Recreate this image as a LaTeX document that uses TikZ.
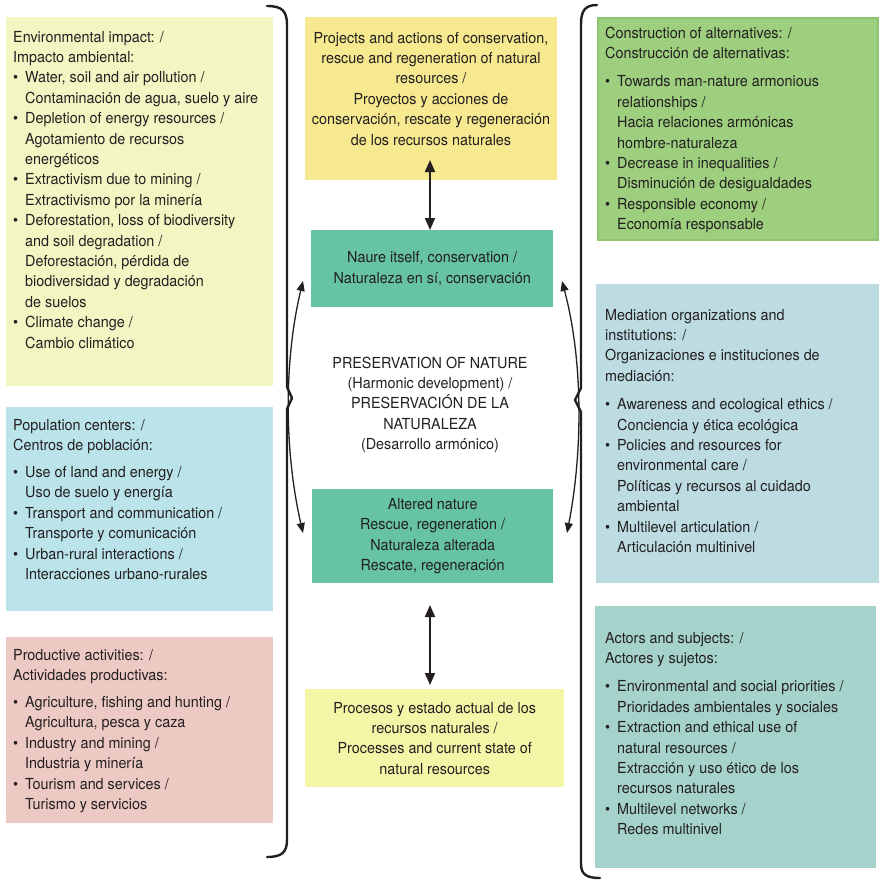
\documentclass[tikz,border=0pt]{standalone}
\usepackage{fontspec}
\setmainfont{TeX Gyre Heros}[FakeStretch=0.945]
\usetikzlibrary{arrows.meta}
\definecolor{ink}{HTML}{231F20}
\definecolor{impactfill}{HTML}{F3F5C3}
\definecolor{popfill}{HTML}{BAE4EA}
\definecolor{prodfill}{HTML}{EDC9C3}
\definecolor{projfill}{HTML}{F6E98F}
\definecolor{natfill}{HTML}{66C3A3}
\definecolor{statefill}{HTML}{F5F5A8}
\definecolor{altfill}{HTML}{9DCF7E}
\definecolor{altdraw}{HTML}{8CC66E}
\definecolor{medfill}{HTML}{BCDCE2}
\definecolor{actfill}{HTML}{A5D3CB}
\newcommand{\bul}{\makebox[12pt][l]{\textbullet}}
\newcommand{\cont}{\hspace*{12pt}}
\begin{document}
\begin{tikzpicture}[x=1pt, y=-1pt, font=\fontsize{15.2}{20.4}\selectfont,
  panel/.style={rectangle, inner sep=0pt, anchor=north west, align=center, text=ink},
  paneltext/.style={inner sep=0pt, align=left, anchor=north west, text=ink},
  midtext/.style={inner sep=0pt, align=center, anchor=north, text=ink},
  brace/.style={line width=2.4pt, line cap=round, line join=round, ink},
  twoway/.style={line width=1.8pt, ink, {Triangle[length=12pt,width=10pt]}-{Triangle[length=12pt,width=10pt]}},
  curvy/.style={line width=1.3pt, ink, {Triangle[length=10pt,width=8pt]}-{Triangle[length=10pt,width=8pt]}}]
  \useasboundingbox (0,0) rectangle (883,886);

  \node[panel, fill=impactfill, minimum width=267pt, minimum height=369pt] (impact) at (6,17) {};
  \node[panel, fill=popfill, minimum width=267pt, minimum height=204pt] (pop) at (6,407) {};
  \node[panel, fill=prodfill, minimum width=267pt, minimum height=186pt] (prod) at (6,637) {};
  \node[panel, fill=altfill, draw=altdraw, line width=2pt, minimum width=280pt, minimum height=222pt] (alt) at (597,17) {};
  \node[panel, fill=medfill, minimum width=283pt, minimum height=299pt] (med) at (596,284) {};
  \node[panel, fill=actfill, minimum width=281pt, minimum height=262pt] (act) at (595,606) {};
  \node[panel, fill=projfill, minimum width=252pt, minimum height=163pt] (proj) at (305,17) {};
  \node[panel, fill=natfill, minimum width=242pt, minimum height=77pt] (nature) at (311,230)
    {Naure itself, conservation /\\Naturaleza en sí, conservación};
  \node[panel, fill=natfill, minimum width=241pt, minimum height=94pt] (altered) at (312,489)
    {Altered nature\\Rescue, regeneration /\\Naturaleza alterada\\Rescate, regeneración};
  \node[panel, fill=statefill, minimum width=259pt, minimum height=98pt] (state) at (305,689)
    {Procesos y estado actual de los\\recursos naturales /\\Processes and current state of\\natural resources};

  \node[paneltext] (impacttext) at (13,27.7) {\strut Environmental impact: /\\Impacto ambiental:\\
    \bul Water, soil and air pollution /\\\cont Contaminación de agua, suelo y aire\\
    \bul Depletion of energy resources /\\\cont Agotamiento de recursos\\\cont energéticos\\
    \bul Extractivism due to mining /\\\cont Extractivismo por la minería\\
    \bul Deforestation, loss of biodiversity\\\cont and soil degradation /\\\cont Deforestación, pérdida de\\\cont biodiversidad y degradación\\\cont de suelos\\
    \bul Climate change /\\\cont Cambio climático};
  \node[paneltext] (poptext) at (13,415.7) {\strut Population centers: /\\Centros de población:\\[6.5pt]
    \bul Use of land and energy /\\\cont Uso de suelo y energía\\
    \bul Transport and communication /\\\cont Transporte y comunicación\\
    \bul Urban-rural interactions /\\\cont Interacciones urbano-rurales};
  \node[paneltext] (prodtext) at (13,645.7) {\strut Productive activities: /\\Actividades productivas:\\[6.5pt]
    \bul Agriculture, fishing and hunting /\\\cont Agricultura, pesca y caza\\
    \bul Industry and mining /\\\cont Industria y minería\\
    \bul Tourism and services /\\\cont Turismo y servicios};
  \node[paneltext] (alttext) at (605,23.7) {\strut Construction of alternatives: /\\Construcción de alternativas:\\[8pt]
    \bul Towards man-nature armonious\\\cont relationships /\\\cont Hacia relaciones armónicas\\\cont hombre-naturaleza\\
    \bul Decrease in inequalities /\\\cont Disminución de desigualdades\\
    \bul Responsible economy /\\\cont Economía responsable};
  \node[paneltext] (medtext) at (605,305.7) {\strut Mediation organizations and\\institutions: /\\Organizaciones e instituciones de\\mediación:\\[8pt]
    \bul Awareness and ecological ethics /\\\cont Conciencia y ética ecológica\\
    \bul Policies and resources for\\\cont environmental care /\\\cont Políticas y recursos al cuidado\\\cont ambiental\\
    \bul Multilevel articulation /\\\cont Articulación multinivel};
  \node[paneltext] (acttext) at (605,628.7) {\strut Actors and subjects: /\\Actores y sujetos:\\[8pt]
    \bul Environmental and social priorities /\\\cont Prioridades ambientales y sociales\\
    \bul Extraction and ethical use of\\\cont natural resources /\\\cont Extracción y uso ético de los\\\cont recursos naturales\\
    \bul Multilevel networks /\\\cont Redes multinivel};
  \node[midtext] (projtext) at (431,28.7) {\strut Projects and actions of conservation,\\rescue and regeneration of natural\\resources /\\Proyectos y acciones de\\conservación, rescate y regeneración\\de los recursos naturales};
  \node[midtext] (core) at (430,353.7) {\strut PRESERVATION OF NATURE\\(Harmonic development) /\\PRESERVACIÓN DE LA\\NATURALEZA\\(Desarrollo armónico)};

  \draw[brace] (267,6) .. controls (282,6) and (287,11) .. (287,25) -- (287,387) -- (292,398) -- (287,409)
    -- (287,840) .. controls (287,852) and (282,857) .. (267,857);
  \draw[brace] (597,5) .. controls (585,5) and (581,11) .. (581,24) -- (581,388) -- (575,400) -- (581,412)
    -- (581,864) .. controls (581,874) and (586,878) .. (600,878);

  \coordinate (projtip) at (430,160);
  \coordinate (alttip) at (430,605);
  \draw[twoway] (projtip) -- (projtip |- nature.north);
  \draw[twoway, shorten >=4pt] (alttip) -- (alttip |- state.north);

  \coordinate (lt) at (303,281);
  \coordinate (lb) at (303,533);
  \coordinate (rt) at (562,281);
  \coordinate (rb) at (567,533);
  \draw[curvy] (lt) .. controls (284,360) and (284,450) .. (lb);
  \draw[curvy] (rt) .. controls (583,360) and (583,450) .. (rb);
\end{tikzpicture}
\end{document}
